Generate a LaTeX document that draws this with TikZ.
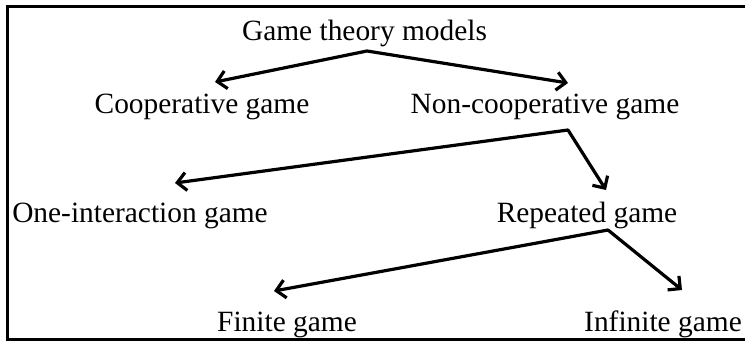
\documentclass[tikz,border=0pt]{standalone}
\usepackage{fontspec}
\setmainfont{Liberation Serif}
\usetikzlibrary{arrows.meta}
\begin{document}
\begin{tikzpicture}[x=1pt,y=-1pt,
  txt/.style={anchor=base,inner sep=0pt,font=\fontsize{29.4}{35}\selectfont},
  fork/.style={line width=3.2pt,line join=round,
    {Straight Barb[length=9pt,width=18pt]}-{Straight Barb[length=9pt,width=18pt]}},
  frame/.style={line width=3pt}]
\useasboundingbox (0,0) rectangle (745,341);
% open frame: top, left and bottom sides
\draw[frame] (745,6.5) -- (7,6.5) -- (7,339.5) -- (745,339.5);

% labels
\node[txt] (root)    at (364.5,40) {Game theory models};
\node[txt] (coop)    at (202,113)  {Cooperative game};
\node[txt] (noncoop) at (545,113)  {Non-cooperative game};
\node[txt] (one)     at (140,222)  {One-interaction game};
\node[txt] (rep)     at (587,222)  {Repeated game};
\node[txt] (fin)     at (287,331)  {Finite game};
\node[txt] (inf)     at (663,331)  {Infinite game};

% branching arrows
\draw[fork] ([shift={(13,-31)}]coop.base) -- ([shift={(2.5,11)}]root.base)
  -- ([shift={(23,-30)}]noncoop.base);
\draw[fork] ([shift={(35,-39)}]one.base) -- ([shift={(23,17)}]noncoop.base)
  -- ([shift={(19,-32)}]rep.base);
\draw[fork] ([shift={(-13,-40)}]fin.base) -- ([shift={(21,8)}]rep.base)
  -- ([shift={(19,-41)}]inf.base);
\end{tikzpicture}
\end{document}
